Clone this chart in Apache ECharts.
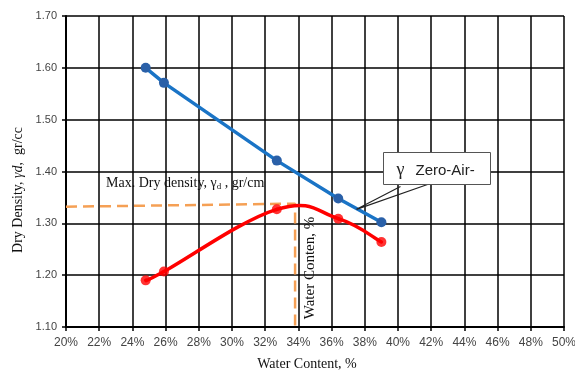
<!DOCTYPE html>
<html>
<head>
<meta charset="utf-8">
<script src="https://cdn.jsdelivr.net/npm/echarts@6/dist/echarts.min.js"></script>
<style>
  html, body { margin: 0; padding: 0; background: #fff; }
  #chart { width: 575px; height: 370px; }
</style>
</head>
<body>
<div id="chart"></div>
<script>
// Compaction test results: water content (%) vs dry density (gr/cc)
const waterContent = [24.8, 25.9, 32.7, 36.4, 39.0];
const zeroAirVoids = [1.600, 1.571, 1.421, 1.348, 1.302];
const compactionDensity = [1.190, 1.207, 1.327, 1.309, 1.264];

// Max dry density guide: horizontal read-off then drop to optimum water content
const maxDryGuideX = [20, 33.8, 33.8];
const maxDryGuideY = [1.332, 1.338, 1.10];

// Axis ranges
const xRange = { min: 20, max: 50, step: 2 };
const yRange = { min: 1.1, max: 1.7, step: 0.1 };

// Callout pointer tip on the zero-air-voids line
const calloutTip = [37.5, 1.327];

const SERIF = '"Liberation Serif", "Times New Roman", serif';
const SANS = '"Liberation Sans", Arial, sans-serif';

const pairs = (xs, ys) => xs.map((x, i) => [x, ys[i]]);

// Cardinal-spline tangent factor for the smoothed compaction curve
const TENSION = 0.2;

// Each item draws the curved segment from its point to the next one,
// with control points taken from the neighbouring points in pixel space.
function renderCurveSegment(params, api) {
  const i = params.dataIndex;
  const n = waterContent.length;
  if (i >= n - 1) return null;
  const P = k => api.coord([waterContent[Math.max(0, Math.min(n - 1, k))],
                            compactionDensity[Math.max(0, Math.min(n - 1, k))]]);
  const p0 = P(i - 1), p1 = P(i), p2 = P(i + 1), p3 = P(i + 2);
  return {
    type: 'bezierCurve',
    shape: {
      x1: p1[0], y1: p1[1],
      cpx1: p1[0] + (p2[0] - p0[0]) * TENSION,
      cpy1: p1[1] + (p2[1] - p0[1]) * TENSION,
      cpx2: p2[0] - (p3[0] - p1[0]) * TENSION,
      cpy2: p2[1] - (p3[1] - p1[1]) * TENSION,
      x2: p2[0], y2: p2[1]
    },
    style: { stroke: '#ff0000', lineWidth: 3.5, fill: null, lineCap: 'round' }
  };
}

const chart = echarts.init(document.getElementById('chart'), null, { renderer: 'canvas' });

chart.setOption({
  animation: false,
  backgroundColor: '#fff',
  grid: { left: 66, right: 11, top: 16, bottom: 43, containLabel: false, outerBoundsMode: 'none' },
  xAxis: {
    type: 'value',
    min: xRange.min, max: xRange.max, interval: xRange.step,
    axisLine: { show: true, onZero: false, lineStyle: { color: '#000', width: 2 } },
    axisTick: { show: true, length: 4, lineStyle: { color: '#000', width: 1.5 } },
    splitLine: { show: true, lineStyle: { color: '#000', width: 1.5 } },
    axisLabel: { color: '#444', fontFamily: SANS, fontSize: 12, margin: 10,
      formatter: v => Math.round(v) + '%' }
  },
  yAxis: {
    type: 'value',
    min: yRange.min, max: yRange.max, interval: yRange.step,
    axisLine: { show: true, onZero: false, lineStyle: { color: '#000', width: 2 } },
    axisTick: { show: true, length: 4, lineStyle: { color: '#000', width: 1.5 } },
    splitLine: { show: true, lineStyle: { color: '#000', width: 1.5 } },
    axisLabel: { color: '#444', fontFamily: SANS, fontSize: 11, margin: 9,
      formatter: v => v.toFixed(2) }
  },
  series: [
    {
      name: 'Max dry density guide',
      type: 'line',
      data: pairs(maxDryGuideX, maxDryGuideY),
      symbol: 'none',
      lineStyle: { color: '#f5a055', width: 2.5, type: [11, 6] },
      z: 2
    },
    {
      name: 'Compaction curve',
      type: 'custom',
      data: pairs(waterContent, compactionDensity),
      renderItem: renderCurveSegment,
      encode: { x: 0, y: 1 },
      clip: false,
      z: 3
    },
    {
      name: 'Compaction points',
      type: 'scatter',
      data: pairs(waterContent, compactionDensity),
      symbol: 'circle',
      symbolSize: 10,
      itemStyle: { color: '#ff0000' },
      z: 4
    },
    {
      name: 'Zero-Air-Voids',
      type: 'line',
      data: pairs(waterContent, zeroAirVoids),
      symbol: 'circle',
      symbolSize: 10,
      itemStyle: { color: '#2a60a8' },
      lineStyle: { color: '#1a74c6', width: 3.5 },
      z: 5
    }
  ]
});

// Annotations placed from data coordinates
const px = (x, y) => chart.convertToPixel({ gridIndex: 0 }, [x, y]);
const tip = px(calloutTip[0], calloutTip[1]);
const boxX = Math.round(px(39.1, 1.4)[0]) + 0.5;
const boxY = 152.5;
const boxW = 107, boxH = 32;

chart.setOption({
  graphic: [
    {
      type: 'text',
      rotation: Math.PI / 2,
      x: 18, y: 190,
      style: {
        text: '{n|Dry Density, }{i|γd,}{n|  gr/cc}',
        align: 'center', verticalAlign: 'middle',
        rich: {
          n: { font: '14px ' + SERIF, fill: '#111' },
          i: { font: 'italic 14px ' + SERIF, fill: '#111' }
        }
      }
    },
    {
      type: 'text',
      x: 307, y: 364,
      style: {
        text: 'Water Content, %',
        font: '14px ' + SERIF, fill: '#111',
        align: 'center', verticalAlign: 'middle'
      }
    },
    {
      type: 'text',
      x: 106, y: 183,
      style: {
        text: '{n|Max. Dry density, γ}{s|d}{n| , gr/cm}',
        align: 'left', verticalAlign: 'middle',
        rich: {
          n: { font: '14px ' + SERIF, fill: '#111' },
          s: { font: '9px ' + SERIF, fill: '#111', padding: [8, 0, 0, 0] }
        }
      }
    },
    {
      type: 'text',
      rotation: Math.PI / 2,
      x: 310, y: 268,
      style: {
        text: 'Water Conten, %',
        font: '15px ' + SERIF, fill: '#111',
        align: 'center', verticalAlign: 'middle'
      }
    },
    {
      type: 'polyline',
      shape: { points: [[boxX + 17, boxY + boxH + 2], tip, [boxX + 44, boxY + boxH]] },
      style: { stroke: '#222', lineWidth: 1.2, fill: null },
      z: 10
    },
    {
      type: 'rect',
      shape: { x: boxX, y: boxY, width: boxW, height: boxH },
      style: { fill: '#fff', stroke: '#555', lineWidth: 1 },
      z: 11
    },
    {
      type: 'text',
      x: boxX + 17, y: boxY + 18,
      style: {
        text: 'γ', font: '18px ' + SERIF, fill: '#222',
        align: 'center', verticalAlign: 'middle'
      },
      z: 12
    },
    {
      type: 'text',
      x: boxX + 32, y: boxY + 18,
      style: {
        text: 'Zero-Air-', font: '15px ' + SANS, fill: '#222',
        align: 'left', verticalAlign: 'middle'
      },
      z: 12
    }
  ]
});
</script>
</body>
</html>
